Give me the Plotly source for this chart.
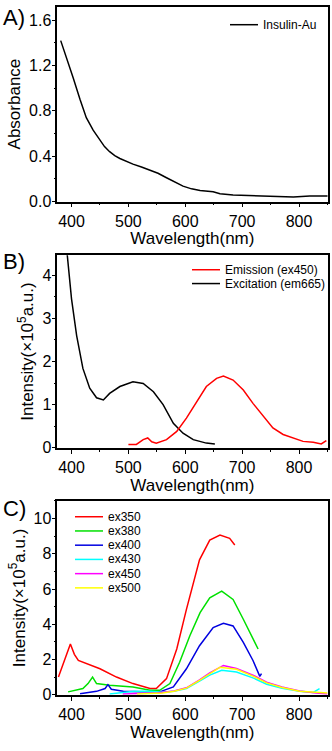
import plotly.graph_objects as go

# ---- data ----
# A) absorbance
abs_wl = [381, 391, 403, 415, 426, 438, 450, 458, 467, 476, 485, 496, 508,
          523, 538, 552, 567, 582, 596, 611, 626, 649, 661, 684, 743, 790,
          819, 851]
abs_val = [1.42, 1.26, 1.09, 0.90, 0.74, 0.63, 0.54, 0.485, 0.44, 0.405,
           0.38, 0.355, 0.33, 0.305, 0.28, 0.25, 0.21, 0.17, 0.136, 0.112,
           0.098, 0.087, 0.069, 0.058, 0.049, 0.040, 0.049, 0.049]

# B) emission / excitation
exc_wl = [391, 400, 409, 420, 432, 444, 456, 467, 485, 508, 526, 544, 561,
          579, 596, 614, 637, 652]
exc_val = [4.67, 3.45, 2.60, 1.84, 1.38, 1.16, 1.11, 1.26, 1.42, 1.53, 1.49,
           1.30, 1.00, 0.57, 0.34, 0.19, 0.11, 0.09]
emi_wl = [500, 514, 526, 534, 541, 549, 567, 585, 602, 620, 637, 655, 667,
          684, 702, 719, 737, 754, 772, 790, 807, 825, 839, 848]
emi_val = [0.08, 0.08, 0.19, 0.23, 0.14, 0.11, 0.19, 0.38, 0.69, 1.07, 1.42,
           1.61, 1.66, 1.57, 1.34, 1.03, 0.73, 0.46, 0.31, 0.23, 0.15, 0.13,
           0.09, 0.17]

# C) emission at different excitation wavelengths
ex350_wl = [377, 390, 398, 405, 412, 450, 479, 508, 538, 549, 567, 585, 602,
            625, 643, 661, 678, 687]
ex350_val = [1.01, 2.2, 2.88, 2.3, 1.95, 1.48, 1.01, 0.64, 0.36, 0.36, 0.92,
             2.6, 4.85, 7.66, 8.78, 9.06, 8.88, 8.5]
ex380_wl = [394, 420, 429, 437, 444, 467, 508, 538, 555, 573, 590, 608, 626,
            643, 664, 684, 702, 719, 728]
ex380_val = [0.17, 0.36, 0.64, 1.01, 0.64, 0.54, 0.45, 0.26, 0.26, 0.64, 1.85,
             3.35, 4.66, 5.5, 5.88, 5.41, 4.29, 3.16, 2.6]
ex400_wl = [415, 444, 459, 464, 470, 491, 520, 555, 579, 602, 625, 649, 667,
            684, 702, 719, 731, 734]
ex400_val = [0.07, 0.2, 0.36, 0.58, 0.32, 0.2, 0.17, 0.17, 0.45, 1.48, 2.79,
             3.82, 4.06, 3.91, 2.98, 1.95, 1.05, 1.2]
ex430_wl = [467, 490, 510, 540, 560, 580, 602, 625, 643, 664, 690, 720, 743,
            770, 801, 825, 836]
ex430_val = [0.05, 0.12, 0.2, 0.2, 0.15, 0.2, 0.36, 0.78, 1.12, 1.39, 1.3,
             0.95, 0.6, 0.38, 0.2, 0.14, 0.35]
ex450_wl = [490, 520, 550, 580, 602, 625, 643, 667, 690, 720, 743, 770, 801,
            830, 850]
ex450_val = [0.05, 0.08, 0.1, 0.22, 0.4, 0.85, 1.25, 1.67, 1.5, 1.1, 0.72,
             0.45, 0.22, 0.1, 0.05]
ex500_wl = [515, 540, 560, 580, 602, 625, 643, 661, 690, 720, 743, 770, 801,
            830, 850]
ex500_val = [0.05, 0.08, 0.1, 0.2, 0.38, 0.82, 1.2, 1.57, 1.45, 1.05, 0.68,
             0.42, 0.2, 0.12, 0.1]

c_names = ['ex350', 'ex380', 'ex400', 'ex430', 'ex450', 'ex500']
c_colors = ['#FF0000', '#00E000', '#0000E0', '#00FFFF', '#FF00FF', '#FFFF00']
c_wl = [ex350_wl, ex380_wl, ex400_wl, ex430_wl, ex450_wl, ex500_wl]
c_val = [ex350_val, ex380_val, ex400_val, ex430_val, ex450_val, ex500_val]

W, H = 332, 751
FONT = 'Liberation Sans, Arial, sans-serif'


def px(x):
    return x / W


def py(y):
    return 1 - y / H


fig = go.Figure()

fig.add_trace(go.Scatter(x=abs_wl, y=abs_val, mode='lines',
                         line=dict(color='black', width=1.5),
                         xaxis='x', yaxis='y', showlegend=False))
fig.add_trace(go.Scatter(x=exc_wl, y=exc_val, mode='lines',
                         line=dict(color='black', width=1.5),
                         xaxis='x2', yaxis='y2', showlegend=False))
fig.add_trace(go.Scatter(x=emi_wl, y=emi_val, mode='lines',
                         line=dict(color='#FF0000', width=1.5),
                         xaxis='x2', yaxis='y2', showlegend=False))
for name, col, wl, val in zip(c_names, c_colors, c_wl, c_val):
    fig.add_trace(go.Scatter(x=wl, y=val, mode='lines', name=name,
                             line=dict(color=col, width=1.5),
                             xaxis='x3', yaxis='y3', showlegend=False))

xdom = [px(57.3), px(327.5)]
ydoms = [[py(204), py(6.7)], [py(453.3), py(258.3)], [py(703.3), py(507)]]
yranges = [[0, 1.72], [0, 4.46], [0, 11]]
ydticks = [0.4, 1, 2]
ytitles = ['Absorbance', 'Intensity(×10<sup>5</sup>a.u.)',
           'Intensity(×10<sup>5</sup>a.u.)']

axis_common = dict(showline=True, linecolor='black', linewidth=1.5,
                   mirror=True, ticks='outside', ticklen=4, tickwidth=1,
                   tickcolor='black', showgrid=False, zeroline=False,
                   tickfont=dict(size=16, color='black'),
                   title_font=dict(size=17, color='black'))

layout = dict(width=W, height=H, margin=dict(l=0, r=0, t=0, b=0),
              paper_bgcolor='white', plot_bgcolor='white',
              font=dict(family=FONT, color='black'))
for i in range(3):
    s = '' if i == 0 else str(i + 1)
    layout['xaxis' + s] = dict(axis_common, domain=xdom, range=[375, 850],
                               dtick=100, tick0=0, anchor='y' + s,
                               minor=dict(dtick=50, ticks='outside',
                                          ticklen=2, tickcolor='black'),
                               title=dict(text='Wavelength(nm)', standoff=4))
    layout['yaxis' + s] = dict(axis_common, domain=ydoms[i], range=yranges[i],
                               dtick=ydticks[i], tick0=0, anchor='x' + s,
                               ticklabelstandoff=-3,
                               minor=dict(dtick=ydticks[i] / 2,
                                          ticks='outside', ticklen=2,
                                          tickcolor='black'),
                               title=dict(text=ytitles[i], standoff=4))
layout['yaxis']['tickformat'] = '.1f'
fig.update_layout(**layout)

# panel letters
for lab, y in zip(['A)', 'B)', 'C)'], [18, 265, 515]):
    fig.add_annotation(text=lab, x=px(1), y=py(y), xref='paper', yref='paper',
                       xanchor='left', yanchor='middle', showarrow=False,
                       font=dict(size=22, color='black'))


# hand-drawn legends (line swatch + label)
def legend_item(x0, y, color, text):
    fig.add_shape(type='line', x0=px(x0), x1=px(x0 + 28), y0=py(y), y1=py(y),
                  xref='paper', yref='paper',
                  line=dict(color=color, width=1.5))
    fig.add_annotation(text=text, x=px(x0 + 31), y=py(y), xref='paper',
                       yref='paper', xanchor='left', yanchor='middle',
                       showarrow=False, font=dict(size=12, color='black'))


legend_item(230, 25, 'black', 'Insulin-Au')
legend_item(192, 273, '#FF0000', 'Emission (ex450)')
legend_item(192, 287, 'black', 'Excitation (em665)')
for k, (name, col) in enumerate(zip(c_names, c_colors)):
    legend_item(75, 523 + 14.4 * k, col, name)

fig.write_html("out.html", config={'displayModeBar': False},
               post_script="document.body.style.margin='0';")
